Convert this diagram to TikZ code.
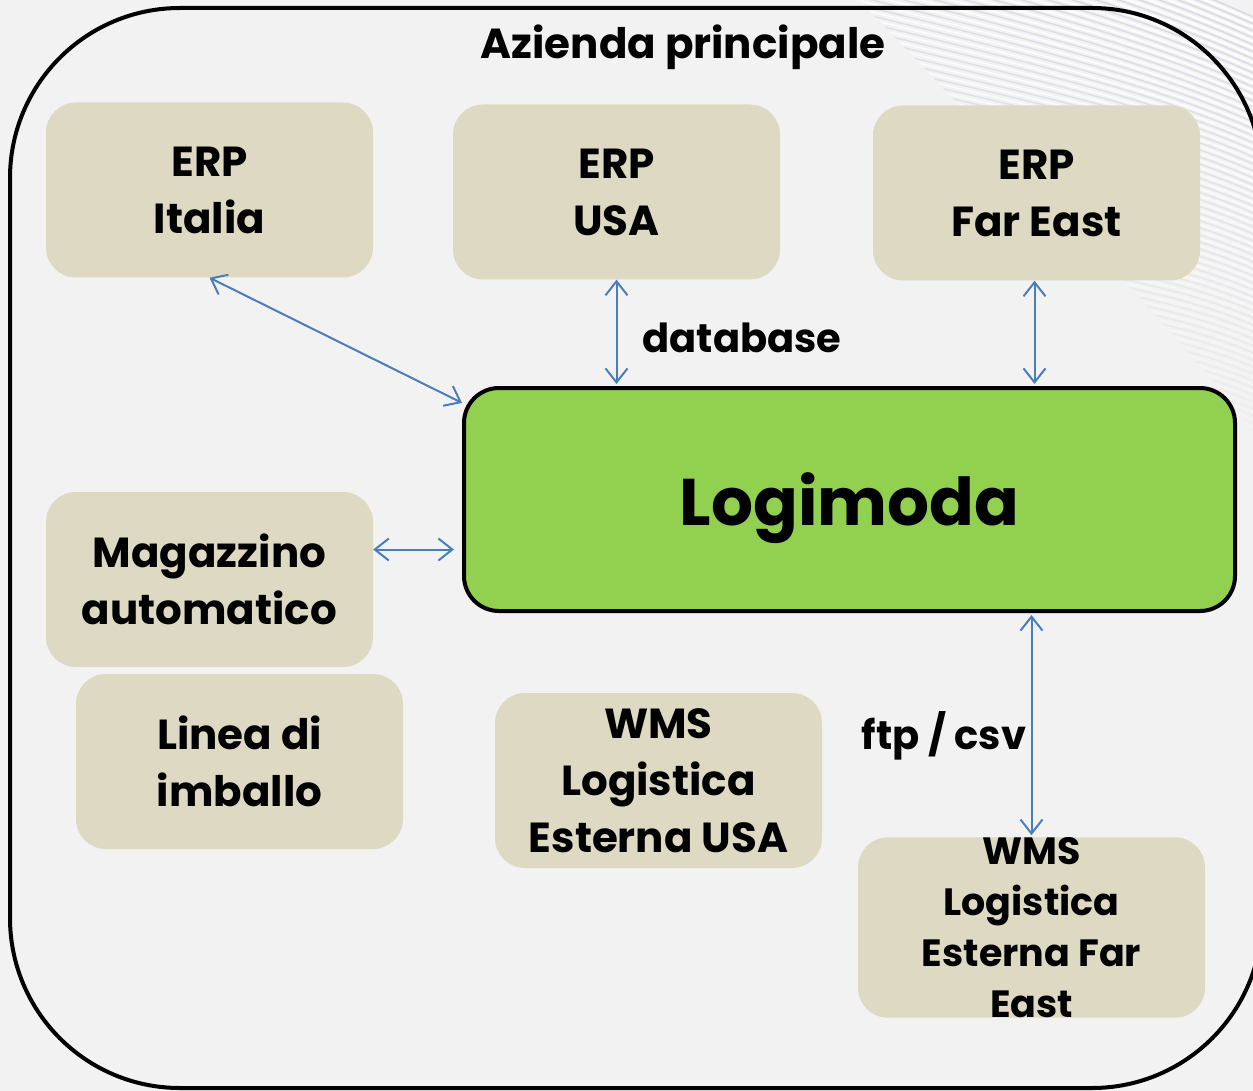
\documentclass[tikz,border=0pt]{standalone}
\usepackage{fontspec}
\setmainfont{Poppins}
\usetikzlibrary{arrows.meta,calc}
\definecolor{bg}{HTML}{F2F2F2}
\definecolor{beige}{HTML}{DDD9C3}
\definecolor{logigreen}{HTML}{92D050}
\definecolor{arrowblue}{HTML}{4A7EBB}
\definecolor{wave}{HTML}{D8D8E4}
\begin{document}
\begin{tikzpicture}[x=1pt,y=-1pt,
  box/.style={fill=beige, rounded corners=30pt, minimum width=327pt, minimum height=175pt, align=center, inner sep=0pt, font=\fontsize{42}{57}\selectfont\bfseries},
  lbl/.style={font=\fontsize{40}{48}\selectfont\bfseries, inner sep=0pt},
  conn/.style={draw=arrowblue, line width=2pt, {Straight Barb[length=14pt,width=22pt,line width=2pt]}-{Straight Barb[length=14pt,width=22pt,line width=2pt]}}]
\useasboundingbox (0,0) rectangle (1253,1091);
\clip (0,0) rectangle (1253,1091);
\fill[bg] (0,0) rectangle (1253,1091);
% decorative waves, top right
\begin{scope}
\clip (1253,0) -- (860,0) .. controls (1000,150) and (1150,300) .. (1253,430) -- cycle;
\foreach \i in {0,...,70} {
  \draw[wave, line width=1.4pt, opacity={max(0,1-\i/70)}] (840,-120+\i*8) .. controls (1000,-80+\i*8) and (1150,-30+\i*7) .. (1260,20+\i*7);
  \draw[white, line width=1.8pt, opacity={max(0,1-\i/70)}] (840,-116+\i*8) .. controls (1000,-76+\i*8) and (1150,-26+\i*7) .. (1260,23.5+\i*7);
}
\end{scope}
% outer frame
\draw[line width=4pt, rounded corners=170pt] (10,8) rectangle (1262,1088);
\node[font=\fontsize{42}{46}\selectfont\bfseries, inner sep=0pt] (title) at (683,47) {Azienda principale};
% boxes
\node[box] (italia) at (209.5,190) {ERP\\Italia};
\node[box] (usa) at (616.5,192) {ERP\\USA};
\node[box] (fe) at (1036.5,193) {ERP\\Far East};
\node[box] (mag) at (209.5,579.5) {Magazzino\\automatico};
\node[box] (linea) at (239.5,761.5) {Linea di\\imballo};
\node[box] (wusa) at (658.5,780.5) {WMS\\Logistica\\Esterna USA};
\node[box, minimum width=347pt, font=\fontsize{38}{51}\selectfont\bfseries] (wfe) at (1031.5,927.5) {WMS\\Logistica\\Esterna Far\\East};
\node[draw=black, line width=4pt, fill=logigreen, rounded corners=35pt, minimum width=771pt, minimum height=223pt, font=\fontsize{66}{70}\selectfont\bfseries, inner sep=0pt, text depth=0pt] (logi) at (849.5,499.5) {Logimoda};
% labels
\node[lbl] (db) at (742,338) {database};
\node[lbl] (ftp) at (944,736) {ftp / csv};
% connectors
\coordinate (magp) at ([yshift=30pt]mag.east);
\draw[conn] (italia.south) -- (logi.166);
\draw[conn] (usa.south) -- ([yshift=2pt]usa.south |- logi.north);
\draw[conn] ([xshift=-2pt]fe.south) -- ([xshift=-2pt,yshift=2pt]fe.south |- logi.north);
\draw[conn] (magp) -- ([xshift=-8pt]magp -| logi.west);
\draw[conn] ([yshift=-2pt]wfe.north |- logi.south) -- ([yshift=2pt]wfe.north);
\end{tikzpicture}
\end{document}
